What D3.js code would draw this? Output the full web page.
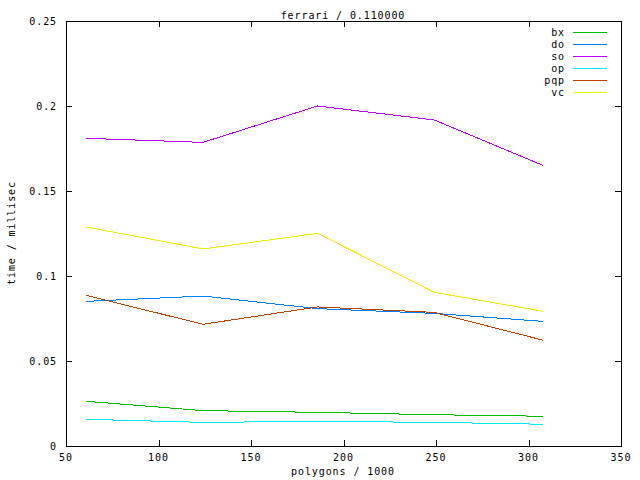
<!DOCTYPE html>
<html><head><meta charset="utf-8">
<script src="https://cdn.jsdelivr.net/npm/d3@7"></script>
<style>body{margin:0;background:#fff}svg{display:block}text{font-family:"DejaVu Sans Mono",monospace;font-size:10px;letter-spacing:0.9px;fill:#000}</style>
</head><body>
<script>
const xValues = [61, 124, 186, 249, 308];
const seriesNames = ["bx", "do", "so", "op", "pqp", "vc"];
const seriesColors = ["#00c000", "#0080ff", "#c000ff", "#00eeee", "#c04000", "#eeee00"];
const bx  = [0.0263, 0.0208, 0.0198, 0.0184, 0.0175];
const dO  = [0.0851, 0.0882, 0.0808, 0.0780, 0.0733];
const so  = [0.1810, 0.1786, 0.2000, 0.1918, 0.1650];
const op  = [0.0157, 0.0139, 0.0145, 0.0139, 0.0128];
const pqp = [0.0886, 0.0716, 0.0818, 0.0786, 0.0622];
const vc  = [0.1288, 0.1159, 0.1251, 0.0904, 0.0792];
const xTicks = [50, 100, 150, 200, 250, 300, 350];
const yTicks = [0, 0.05, 0.1, 0.15, 0.2, 0.25];
const yTickLabels = ["0", "0.05", "0.1", "0.15", "0.2", "0.25"];
const title = "ferrari / 0.110000";
const xLabel = "polygons / 1000";
const yLabel = "time / millisec";

const series = [bx, dO, so, op, pqp, vc];
const W = 640, H = 480;
const m = {l: 66, r: 621, t: 21, b: 446};
const svg = d3.select("body").append("svg").attr("width", W).attr("height", H);
const x = d3.scaleLinear().domain([50, 350]).range([m.l, m.r]);
const y = d3.scaleLinear().domain([0, 0.25]).range([m.b, m.t]);

const g = svg.append("g").attr("shape-rendering", "crispEdges");
// ticks
const tl = 6;
xTicks.forEach(t => {
  const px = Math.round(x(t)) + 0.5;
  g.append("line").attr("x1", px).attr("x2", px).attr("y1", m.b).attr("y2", m.b - tl).attr("stroke", "#000");
  g.append("line").attr("x1", px).attr("x2", px).attr("y1", m.t).attr("y2", m.t + tl).attr("stroke", "#000");
  svg.append("text").attr("x", x(t)).attr("y", 461).attr("text-anchor", "middle").text(t);
});
yTicks.forEach((t, i) => {
  const py = Math.round(y(t)) + 0.5;
  g.append("line").attr("x1", m.l).attr("x2", m.l + tl).attr("y1", py).attr("y2", py).attr("stroke", "#000");
  g.append("line").attr("x1", m.r).attr("x2", m.r - tl).attr("y1", py).attr("y2", py).attr("stroke", "#000");
  svg.append("text").attr("x", 57).attr("y", y(t) + 3.5).attr("text-anchor", "end").text(yTickLabels[i]);
});
g.append("rect").attr("x", m.l + 0.5).attr("y", m.t + 0.5).attr("width", m.r - m.l).attr("height", m.b - m.t)
  .attr("fill", "none").attr("stroke", "#000");

// lines
const line = d3.line().x((d, i) => x(xValues[i])).y(d => y(d));
series.forEach((s, k) => {
  g.append("path").attr("d", line(s)).attr("fill", "none").attr("stroke", seriesColors[k]).attr("stroke-width", 1);
});

// legend
seriesNames.forEach((n, k) => {
  const ly = 32 + k * 12;
  svg.append("text").attr("x", 565).attr("y", ly + 3.5).attr("text-anchor", "end").text(n);
  g.append("line").attr("x1", 573).attr("x2", 607).attr("y1", ly + 0.5).attr("y2", ly + 0.5).attr("stroke", seriesColors[k]);
});

svg.append("text").attr("x", 343).attr("y", 19).attr("text-anchor", "middle").text(title);
svg.append("text").attr("x", 343).attr("y", 475).attr("text-anchor", "middle").text(xLabel);
svg.append("text").attr("transform", "translate(15,233) rotate(-90)").attr("text-anchor", "middle").text(yLabel);
</script>
</body></html>
